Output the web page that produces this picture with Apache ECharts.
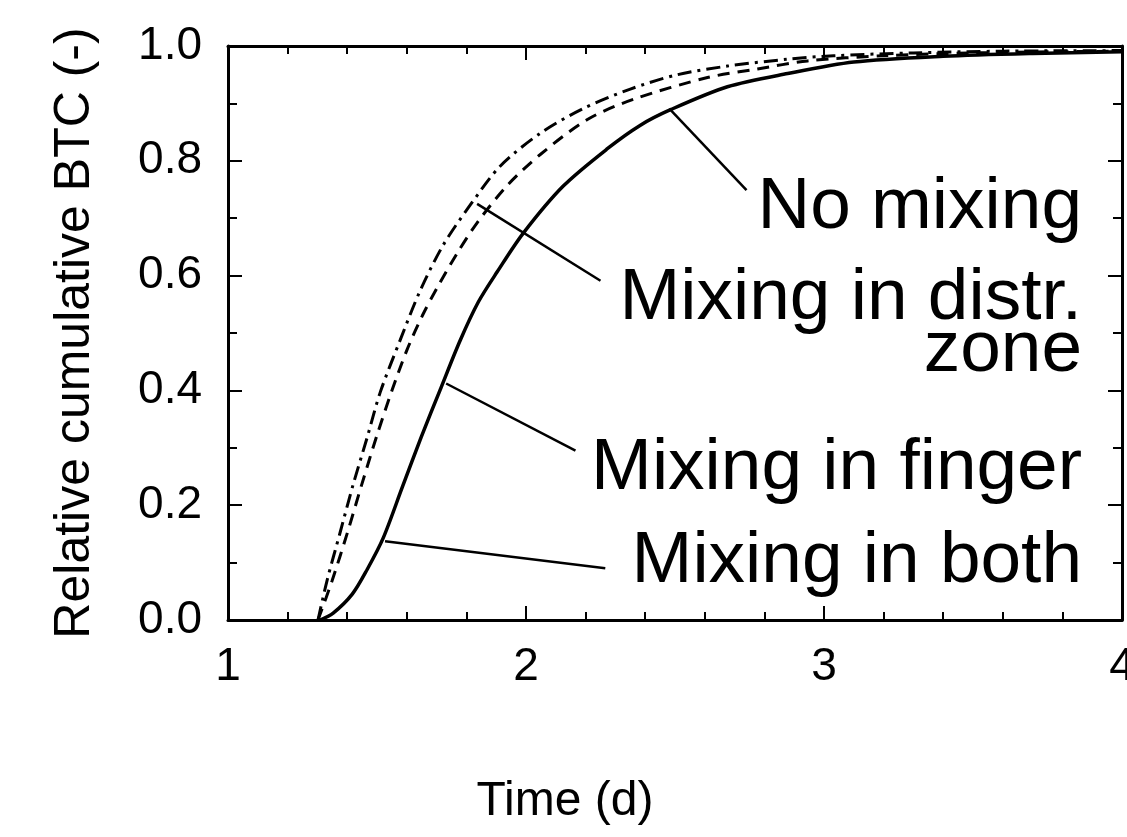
<!DOCTYPE html>
<html>
<head>
<meta charset="utf-8">
<title>Relative cumulative BTC</title>
<script src="https://cdn.jsdelivr.net/npm/echarts@6/dist/echarts.min.js"></script>
<style>
  html, body { margin: 0; padding: 0; background: #fff; }
  #main { width: 1127px; height: 837px; }
</style>
</head>
<body>
<div id="main"></div>
<script>
// x = time (d), y = relative cumulative BTC
const dashDotX = [1.302, 1.333, 1.376, 1.42, 1.467, 1.511, 1.578, 1.645, 1.722, 1.813, 1.914, 2.048, 2.192, 2.35, 2.508, 2.676, 2.878, 3.032, 3.3, 3.6, 4.0];
const dashDotY = [0, 0.070, 0.152, 0.236, 0.318, 0.397, 0.488, 0.574, 0.653, 0.723, 0.791, 0.848, 0.891, 0.925, 0.950, 0.965, 0.977, 0.983, 0.988, 0.991, 0.992];

const dashedX = [1.302, 1.349, 1.40, 1.45, 1.50, 1.551, 1.601, 1.652, 1.702, 1.769, 1.836, 1.937, 2.048, 2.206, 2.36, 2.609, 2.777, 2.945, 3.2, 3.5, 4.0];
const dashedY = [0, 0.068, 0.151, 0.238, 0.322, 0.401, 0.471, 0.530, 0.579, 0.639, 0.692, 0.757, 0.811, 0.872, 0.907, 0.945, 0.960, 0.974, 0.983, 0.988, 0.991];

const solidX = [1.309, 1.353, 1.417, 1.467, 1.521, 1.584, 1.648, 1.715, 1.779, 1.84, 1.904, 1.991, 2.125, 2.273, 2.384, 2.485, 2.676, 2.878, 3.10, 3.4, 3.7, 4.0];
const solidY = [0, 0.012, 0.045, 0.088, 0.143, 0.230, 0.318, 0.405, 0.487, 0.554, 0.607, 0.674, 0.756, 0.821, 0.862, 0.889, 0.929, 0.952, 0.972, 0.982, 0.987, 0.990];

// leader lines from curve to label, [x1, y1, x2, y2]
const leaderLines = [
  [2.481, 0.891, 2.740, 0.749],
  [1.836, 0.725, 2.250, 0.591],
  [1.732, 0.412, 2.166, 0.295],
  [1.527, 0.137, 2.266, 0.090]
];
const labelTexts = ['No mixing', 'Mixing in distr.', 'zone', 'Mixing in finger', 'Mixing in both'];
const labelY = [208, 299, 351, 469, 562];

const xTicks = [1, 4, 1];   // min, max, interval
const yTicks = [0, 1, 0.2];

const font = '"Liberation Sans", Arial, Helvetica, sans-serif';

const pairs = (xs, ys) => xs.map((x, i) => [x, ys[i]]);

var chart = echarts.init(document.getElementById('main'), null, { renderer: 'canvas' });

const baseX = {
  type: 'value', min: xTicks[0], max: xTicks[1], interval: xTicks[2],
  axisLine: { show: true, onZero: false, lineStyle: { color: '#000', width: 3 } },
  axisTick: { show: true, inside: true, length: 14, lineStyle: { color: '#000', width: 2 } },
  minorTick: { show: true, splitNumber: 5, length: 8, lineStyle: { color: '#000', width: 2 } },
  splitLine: { show: false }
};
const baseY = {
  type: 'value', min: yTicks[0], max: yTicks[1], interval: yTicks[2],
  axisLine: { show: true, onZero: false, lineStyle: { color: '#000', width: 3 } },
  axisTick: { show: true, inside: true, length: 14, lineStyle: { color: '#000', width: 2 } },
  minorTick: { show: true, splitNumber: 2, length: 9, lineStyle: { color: '#000', width: 2 } },
  splitLine: { show: false }
};

const graphics = labelTexts.map((t, i) => ({
  type: 'text', x: 1082, y: labelY[i],
  style: { text: t, align: 'right', verticalAlign: 'middle', fill: '#000', fontSize: 73, fontFamily: font }
}));
graphics.push({
  type: 'text', x: 565, y: 802,
  style: { text: 'Time (d)', align: 'center', verticalAlign: 'middle', fill: '#000', fontSize: 48, fontFamily: font }
});

var option = {
  animation: false,
  backgroundColor: '#fff',
  grid: { left: 228, right: 5, top: 46, bottom: 217, containLabel: false, outerBoundsMode: 'none' },
  xAxis: [
    Object.assign({}, baseX, {
      position: 'bottom',
      axisLabel: { show: true, color: '#000', fontSize: 46, fontFamily: font, margin: 24, showMaxLabel: true, showMinLabel: true }
    }),
    Object.assign({}, baseX, { position: 'top', axisLabel: { show: false } })
  ],
  yAxis: [
    Object.assign({}, baseY, {
      position: 'left',
      name: 'Relative cumulative BTC (-)',
      nameLocation: 'middle',
      nameGap: 153,
      nameTextStyle: { color: '#000', fontSize: 50, fontFamily: font, verticalAlign: 'middle' },
      axisLabel: { show: true, color: '#000', fontSize: 46, fontFamily: font, margin: 26, formatter: v => v.toFixed(1) }
    }),
    Object.assign({}, baseY, { position: 'right', axisLabel: { show: false } })
  ],
  graphic: graphics,
  series: [
    {
      name: 'dash-dot', type: 'line', data: pairs(dashDotX, dashDotY),
      showSymbol: false, smooth: 0.3,
      lineStyle: { color: '#000', width: 3, type: [14, 6, 3, 6] }
    },
    {
      name: 'dashed', type: 'line', data: pairs(dashedX, dashedY),
      showSymbol: false, smooth: 0.3,
      lineStyle: { color: '#000', width: 3, type: [12, 8] }
    },
    {
      name: 'solid', type: 'line', data: pairs(solidX, solidY),
      showSymbol: false, smooth: 0.3,
      lineStyle: { color: '#000', width: 3.5, type: 'solid' },
      markLine: {
        silent: true, symbol: 'none', animation: false,
        label: { show: false },
        lineStyle: { color: '#000', width: 2.5, type: 'solid' },
        data: leaderLines.map(l => [{ coord: [l[0], l[1]] }, { coord: [l[2], l[3]] }])
      }
    }
  ]
};
chart.setOption(option);
</script>
</body>
</html>
